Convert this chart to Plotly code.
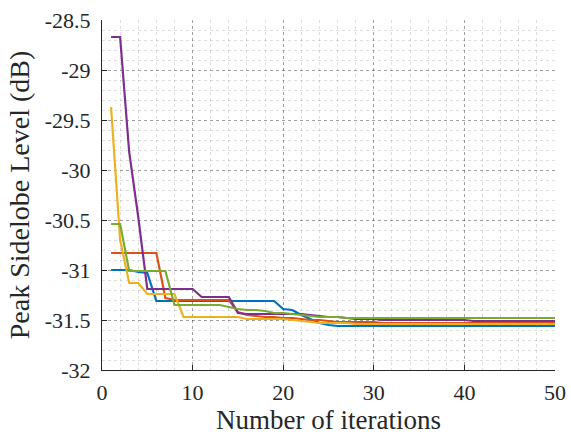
import plotly.graph_objects as go

iterations = list(range(1, 51))

blue = ([-31.00, -31.00, -31.00, -31.02, -31.03] + [-31.31] * 14 +
        [-31.39, -31.40, -31.45, -31.49, -31.53, -31.55] + [-31.56] * 25)
red = ([-30.83] * 6 + [-31.28] + [-31.30] * 7 +
       [-31.42, -31.45, -31.46, -31.47, -31.47, -31.48, -31.48, -31.49, -31.50, -31.50, -31.51] +
       [-31.52] * 5 + [-31.53] * 20)
yellow = ([-29.37, -30.70, -31.13, -31.13] + [-31.24] * 4 + [-31.47] * 7 +
          [-31.49] * 5 + [-31.50, -31.51, -31.52] + [-31.53] * 4 + [-31.54] * 23)
purple = ([-28.67, -28.67, -29.82, -30.47] + [-31.19] * 6 + [-31.27] * 4 +
          [-31.43] + [-31.44] * 7 + [-31.45, -31.46, -31.47, -31.47, -31.48] +
          [-31.49] * 3 + [-31.50] * 10 + [-31.51] * 10)
green = ([-30.54, -30.54] + [-31.01] * 5 + [-31.35] * 6 +
         [-31.37, -31.39, -31.40, -31.40, -31.41, -31.43, -31.43, -31.44, -31.45, -31.46] +
         [-31.47] * 3 + [-31.48] * 24)

series = [("blue", blue, "#0072BD"), ("red", red, "#D95319"),
          ("yellow", yellow, "#EDB120"), ("purple", purple, "#7E2F8E"),
          ("green", green, "#77AC30")]

x_ticks = [0, 10, 20, 30, 40, 50]
x_ticktext = ["0", "10", "20", "30", "40", "50"]
y_ticks = [-32, -31.5, -31, -30.5, -30, -29.5, -29, -28.5]
y_ticktext = ["-32", "-31.5", "-31", "-30.5", "-30", "-29.5", "-29", "-28.5"]

fig = go.Figure()
for name, vals, col in series:
    fig.add_trace(go.Scatter(x=iterations, y=vals, mode="lines", name=name,
                             line=dict(color=col, width=2.2), showlegend=False))

font_family = "Liberation Serif, Times New Roman, Times, DejaVu Serif, serif"
text_col = "#262626"
major_grid = "rgba(0,0,0,0.28)"
minor_grid = "rgba(0,0,0,0.13)"

fig.update_layout(
    width=571, height=436,
    margin=dict(l=102, r=16, t=20, b=66, autoexpand=False),
    paper_bgcolor="white", plot_bgcolor="white",
    font=dict(family=font_family, color=text_col, size=22),
)
fig.update_xaxes(
    range=[0, 50], tickvals=x_ticks, ticktext=x_ticktext, automargin=False,
    showline=True, linecolor=text_col, linewidth=1, mirror=False,
    ticks="inside", ticklen=5, tickcolor=text_col, ticklabelstandoff=3,
    showgrid=True, gridcolor=major_grid, griddash="dot", gridwidth=1,
    minor=dict(dtick=2, showgrid=True, gridcolor=minor_grid, griddash="dot", ticks=""),
    zeroline=False,
    title=dict(text="Number of iterations", font=dict(size=27, family=font_family, color=text_col), standoff=0),
    tickfont=dict(size=22, family=font_family, color=text_col),
)
fig.update_yaxes(
    range=[-32, -28.5], tickvals=y_ticks, ticktext=y_ticktext, automargin=False,
    showline=True, linecolor=text_col, linewidth=1, mirror=False,
    ticks="inside", ticklen=5, tickcolor=text_col, ticklabelstandoff=6,
    showgrid=True, gridcolor=major_grid, griddash="dot", gridwidth=1,
    minor=dict(dtick=0.1, tick0=-32, showgrid=True, gridcolor=minor_grid, griddash="dot", ticks=""),
    zeroline=False,
    title=dict(text="Peak Sidelobe Level (dB)", font=dict(size=28, family=font_family, color=text_col), standoff=6),
    tickfont=dict(size=22, family=font_family, color=text_col),
)

fig.write_html("out.html")
